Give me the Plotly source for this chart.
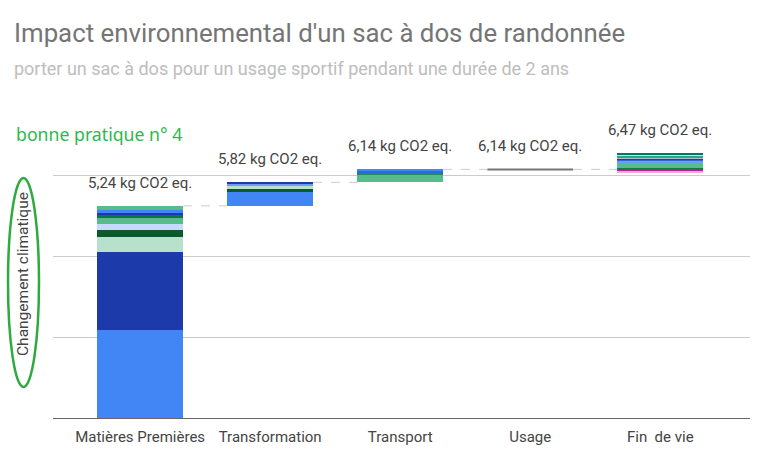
import plotly.graph_objects as go

categories = ["Matières Premières", "Transformation", "Transport", "Usage", "Fin  de vie"]

# stacked contributions per stage (kg CO2 eq.), bottom to top
mp_vals = [2.18, 1.93, 0.37, 0.17, 0.15, 0.15, 0.07, 0.05, 0.07, 0.10]
mp_cols = ["#4285F4", "#1C3AA9", "#B7E1CD", "#0B5A2B", "#C6DAFC", "#57BB8A", "#11734B", "#1C3AA9", "#4285F4", "#57BB8A"]
tr_vals = [0.35, 0.04, 0.02, 0.08, 0.04, 0.03, 0.02]
tr_cols = ["#4285F4", "#1C3AA9", "#0B5A2B", "#B7E1CD", "#57BB8A", "#6D9EEB", "#1C3AA9"]
tp_vals = [0.19, 0.06, 0.04, 0.03]
tp_cols = ["#57BB8A", "#1E8C5E", "#3367D6", "#4285F4"]
us_vals = [0.0]
us_cols = ["#757575"]
fv_vals = [0.03, 0.15, 0.02, 0.05, 0.02, 0.03, 0.03, 0.05, 0.03, -0.05, -0.03]
fv_cols = ["#0B8043", "#57BB8A", "#6D9EEB", "#3367D6", "#1C3AA9", "#B0BEC5", "#26A69A", "#C8E6C9", "#00796B", "#C2189A", "#F8A8DA"]

stages = [(mp_vals, mp_cols), (tr_vals, tr_cols), (tp_vals, tp_cols), (us_vals, us_cols), (fv_vals, fv_cols)]

BAR_W = 0.66
L, R, T, B = 53, 18, 94, 53
W, H = 768, 471
PW, PH = W - L - R, H - T - B

def px(xp):
    return (xp - L) / PW

def py(yp):
    return (H - B - yp) / PH

fig = go.Figure()
start = 0.0
totals = []
tops = []
for i, (vals, cols) in enumerate(stages):
    pos = start
    neg = start
    for v, c in zip(vals, cols):
        if v > 0:
            fig.add_trace(go.Bar(x=[i], y=[v], base=[pos], width=BAR_W, marker=dict(color=c, line=dict(width=0)),
                                 showlegend=False, hoverinfo="skip"))
            pos += v
        elif v < 0:
            fig.add_trace(go.Bar(x=[i], y=[v], base=[neg], width=BAR_W, marker=dict(color=c, line=dict(width=0)),
                                 showlegend=False, hoverinfo="skip"))
            neg += v
    top = max(pos, start)
    net = start + sum(vals)
    if sum(abs(v) for v in vals) == 0:
        fig.add_trace(go.Scatter(x=[i - BAR_W / 2, i + BAR_W / 2], y=[start, start], mode="lines",
                                 line=dict(color=cols[0], width=2), showlegend=False, hoverinfo="skip"))
    totals.append(net)
    tops.append(top)
    start = net

# connectors
cx, cy = [], []
for i in range(len(stages) - 1):
    cx += [i + BAR_W / 2, i + 1 - BAR_W / 2, None]
    cy += [totals[i], totals[i], None]
fig.add_trace(go.Scatter(x=cx, y=cy, mode="lines", line=dict(color="#CCCCCC", width=1, dash="dash"),
                         showlegend=False, hoverinfo="skip"))

ann = []
for i, (t, tp) in enumerate(zip(totals, tops)):
    ann.append(dict(x=i, y=tp, xref="x", yref="y", text=f"{t:.2f}".replace(".", ",") + " kg CO2 eq.",
                    showarrow=False, yanchor="middle", yshift=23,
                    font=dict(family="Roboto", size=15, color="#444444")))

ann.append(dict(x=px(12), y=py(33), xref="paper", yref="paper", xanchor="left", yanchor="middle",
                text="Impact environnemental d'un sac à dos de randonnée", showarrow=False,
                font=dict(family="Roboto", size=25.8, color="#757575")))
ann.append(dict(x=px(12), y=py(68), xref="paper", yref="paper", xanchor="left", yanchor="middle",
                text="porter un sac à dos pour un usage sportif pendant une durée de 2 ans", showarrow=False,
                font=dict(family="Roboto", size=18, color="#BDBDBD")))
ann.append(dict(x=px(14), y=py(134), xref="paper", yref="paper", xanchor="left", yanchor="middle",
                text="bonne pratique n° 4", showarrow=False,
                font=dict(family="Noto Sans", size=17.7, color="#2DB84C")))
ann.append(dict(x=px(23), y=py(274), xref="paper", yref="paper", xanchor="center", yanchor="middle",
                text="Changement climatique", showarrow=False, textangle=-90,
                font=dict(family="Roboto", size=15.5, color="#444444")))

fig.add_shape(type="circle", xref="paper", yref="paper", x0=px(8), x1=px(39), y0=py(387), y1=py(178),
              line=dict(color="#2EAA3F", width=2.5))

fig.update_layout(
    width=W, height=H, margin=dict(l=L, r=R, t=T, b=B),
    barmode="overlay", bargap=0,
    plot_bgcolor="white", paper_bgcolor="white",
    annotations=ann,
    xaxis=dict(range=[-0.67, 4.69], tickvals=list(range(len(categories))), ticktext=categories,
               showgrid=False, zeroline=False, showline=False, ticks="", ticklabelstandoff=8,
               tickfont=dict(family="Roboto", size=15, color="#444444")),
    yaxis=dict(range=[0, 8.002], dtick=2, showticklabels=False, gridcolor="#CCCCCC", gridwidth=1,
               zeroline=True, zerolinecolor="#666666", zerolinewidth=1, ticks=""),
    font=dict(family="Roboto"),
)

fig.write_html("out.html")
